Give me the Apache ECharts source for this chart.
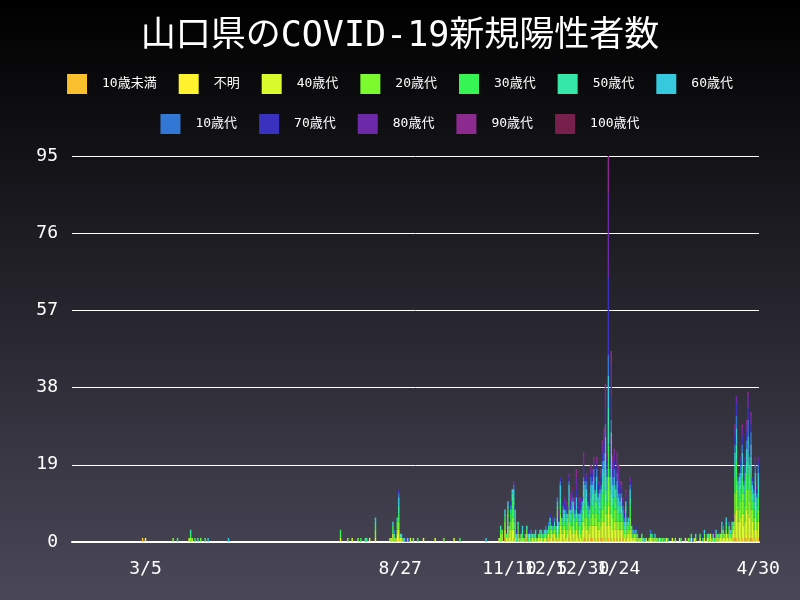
<!DOCTYPE html>
<html>
<head>
<meta charset="utf-8">
<script src="https://cdn.jsdelivr.net/npm/echarts@6/dist/echarts.min.js"></script>
<style>html,body{margin:0;padding:0;background:#000}#main{width:800px;height:600px}</style>
</head>
<body>
<div id="main"></div>
<script>
// 系列名と色
var names = ['10歳未満', '不明', '40歳代', '20歳代', '30歳代', '50歳代', '60歳代', '10歳代', '70歳代', '80歳代', '90歳代', '100歳代'];
var colors = ['#f9bf2c', '#fdf22d', '#d9fb2d', '#7bfb2d', '#35f454', '#35e8a8', '#36c8dc', '#3377d4', '#3a31bf', '#6d2aa8', '#8c2a90', '#77204e'];
var tickDates = ['2020-03-05', '2020-08-27', '2020-11-10', '2020-12-05', '2020-12-30', '2021-01-24', '2021-04-30'];

// 2020年 1/15～10/31 (疎データ)
var early = [
  [['03-03',1],['08-24',1],['08-28',1]],
  [['03-05',1],['08-26',1],['09-12',1]],
  [['04-04',1],['04-06',1],['07-17',1],['07-25',1],['08-06',1],['08-10',1],['08-20',1],['08-22',2],['08-25',2],['08-26',2],['08-27',1],['09-03',1],['09-20',1],['10-03',1]],
  [['03-24',1],['04-05',1],['04-12',1],['07-22',1],['07-29',1],['08-10',2],['08-21',1],['08-23',1],['08-25',1],['08-26',2],['08-29',1],['09-05',1],['09-26',1]],
  [['03-27',1],['04-05',1],['04-08',1],['04-15',1],['07-17',2],['07-31',1],['08-03',1],['08-10',1],['08-22',2],['08-25',2],['08-26',2],['08-28',1],['09-08',1],['10-07',1]],
  [['04-05',1],['04-10',1],['08-04',1],['08-10',1],['08-23',1],['08-26',2],['08-27',1],['09-01',1]],
  [['04-17',1],['05-01',1],['08-10',1],['08-22',1],['08-25',1],['08-26',2],['08-30',1],['10-25',1]],
  [['08-23',1],['08-26',1],['09-02',1]],
  [['08-26',1],['08-29',1]],
  [['08-31',1]],
  [],
  []
];

// 2020/11/1～2021/4/30 日別 (1文字=1日, 36進)
var nov = [
  '0000001000 0010000000 0100000000','0000000000 0000000000 0000000000',
  '0010202141 3321020101 0101010101','0002102031 2321010110 0101001010',
  '0001001110 2431010010 1010100101','0001001011 1232111010 0100011000',
  '0000001011 0123100010 1010100100','0000000001 1010001000 0000100000',
  '0000000001 1001101000 0010000000','0000000000 0010000000 0000000000',
  '0000000000 0000000000 0000000000','0000000000 0000000000 0000000000'
];
var dec = [
  '0000001001 0010001000 10010001001','0000000000 0000000000 00000000000',
  '1101101121 2131421312 43232312134','1010110210 1021312121 31221211123',
  '0101011101 1121212121 21312121223','1010101110 1111211212 12121211122',
  '0101010101 0111311111 31211321212','0000101000 1010101010 10101000101',
  '0000000101 0101111211 12101211213','0000000001 0001010101 11102312102',
  '0000000000 0001000010 01010201001','0000000000 0000000000 00100000000'
];
var jan = [
  '1010110101 0110101010 10101010100','0000000000 0000000000 00000000000',
  '3322334342 3345648463 43432321212','2312233232 2234537353 32322221211',
  '3221323232 3244538353 33322211211','2312233232 2334539352 32222211211',
  '3221323232 2233438353 23221211111','1211212121 1122325232 21212111010',
  '1112121212 122342j362 22232111110','0101111111 112241l382 22231111100',
  '0000101010 0111219231 10110100100','0000000000 0000001000 00000000000'
];
var feb = [
  '0000000000 0000000000 00000000','0000000000 0000000000 00000000',
  '3111101010 0100110100 10000100','3101100100 0001000010 00100000',
  '3110010010 0000101000 01001000','2100100001 0000010001 00000010',
  '2010010000 1000000100 00010000','1001000000 0000100000 00000000',
  '1000100000 0000000000 00000000','1100010000 0000000000 00000000',
  '0000000000 0000000000 00000000','0000000000 0000000000 00000000'
];
var mar = [
  '0000000000 0000000000 00000000000','0000000000 0000000000 00000000000',
  '0100001000 1000101000 10010102010','0001000000 0010000100 00010010010',
  '0000000100 0000100000 10000100101','0000000000 0000000100 00100010000',
  '0000000000 0001000000 00010000000','0000000000 0000010000 00000000100',
  '0000000000 0000000000 00100000010','0000000000 0000000000 00000000001',
  '0000000000 0000000000 00000000000','0000000000 0000000000 00000000000'
];
var apr = [
  '0000000000 0011101010 1101110101','0000000000 0001000100 0100100010',
  '1011211212 1225754564 4675643524','1101101101 0115543453 4564533423',
  '0100110110 1114733343 3453422323','0010010101 0103423232 3343422223',
  '1000100100 1003412232 2343322223','0000010001 0002311221 2242311212',
  '0000000000 0012300121 1231211111','0000000000 0012200121 1232200111',
  '0000000000 0001000010 0110100000','0000000000 0000000000 0000000000'
];

function pad(n) { return ('0' + n).slice(-2); }

var dates = [], keys = [];
var d = new Date(2020, 0, 15), end = new Date(2021, 3, 30);
while (d <= end) {
  dates.push((d.getMonth() + 1) + '/' + d.getDate());
  keys.push(d.getFullYear() + '-' + pad(d.getMonth() + 1) + '-' + pad(d.getDate()));
  d.setDate(d.getDate() + 1);
}
var tickIdx = tickDates.map(function (t) { return keys.indexOf(t); });

var months = [nov, dec, jan, feb, mar, apr];
var series = names.map(function (n, i) {
  var vals = keys.map(function () { return 0; });
  early[i].forEach(function (p) {
    var k = keys.indexOf('2020-' + p[0]);
    if (k >= 0) vals[k] = p[1];
  });
  var str = months.map(function (m) { return m[i].replace(/ /g, ''); }).join('');
  var start = keys.indexOf('2020-11-01');
  for (var j = 0; j < str.length; j++) vals[start + j] = parseInt(str[j], 36);
  return {
    name: n, type: 'bar', stack: 'total', barWidth: '100%',
    itemStyle: { color: colors[i] },
    data: vals.map(function (v) { return v || null; })
  };
});

var myChart = echarts.init(document.getElementById('main'));
var legendText = { color: '#fff', fontSize: 13, fontFamily: 'DejaVu Sans Mono, Noto Sans CJK JP', padding: [0, 0, 0, 10] };
option = {
  animation: false,
  backgroundColor: new echarts.graphic.LinearGradient(0, 0, 0, 1, [
    { offset: 0, color: '#000000' }, { offset: 1, color: '#4a4858' }
  ]),
  title: {
    text: '山口県のCOVID-19新規陽性者数', left: 'center', top: 14,
    textStyle: { color: '#fff', fontSize: 35, fontWeight: 'normal', fontFamily: 'DejaVu Sans Mono, Noto Sans CJK JP' }
  },
  legend: [
    { data: names.slice(0, 7), top: 69, left: 'center', itemWidth: 20, itemHeight: 20, itemGap: 22, textStyle: legendText, icon: 'rect' },
    { data: names.slice(7), top: 109, left: 'center', itemWidth: 20, itemHeight: 20, itemGap: 22, textStyle: legendText, icon: 'rect' }
  ],
  grid: { left: 72, right: 41, top: 156, bottom: 58 },
  xAxis: {
    type: 'category', data: dates,
    axisLine: { lineStyle: { color: '#fff', width: 2 } },
    axisTick: { show: false },
    axisLabel: {
      color: '#fff', fontSize: 18, fontFamily: 'DejaVu Sans Mono', margin: 18,
      interval: function (idx) { return tickIdx.indexOf(idx) >= 0; }
    }
  },
  yAxis: {
    type: 'value', min: 0, max: 95, interval: 19,
    axisLine: { show: false }, axisTick: { show: false },
    axisLabel: { color: '#fff', fontSize: 18, fontFamily: 'DejaVu Sans Mono', margin: 14 },
    splitLine: { lineStyle: { color: '#fff', width: 1 } }
  },
  series: series
};
myChart.setOption(option);
</script>
</body>
</html>
